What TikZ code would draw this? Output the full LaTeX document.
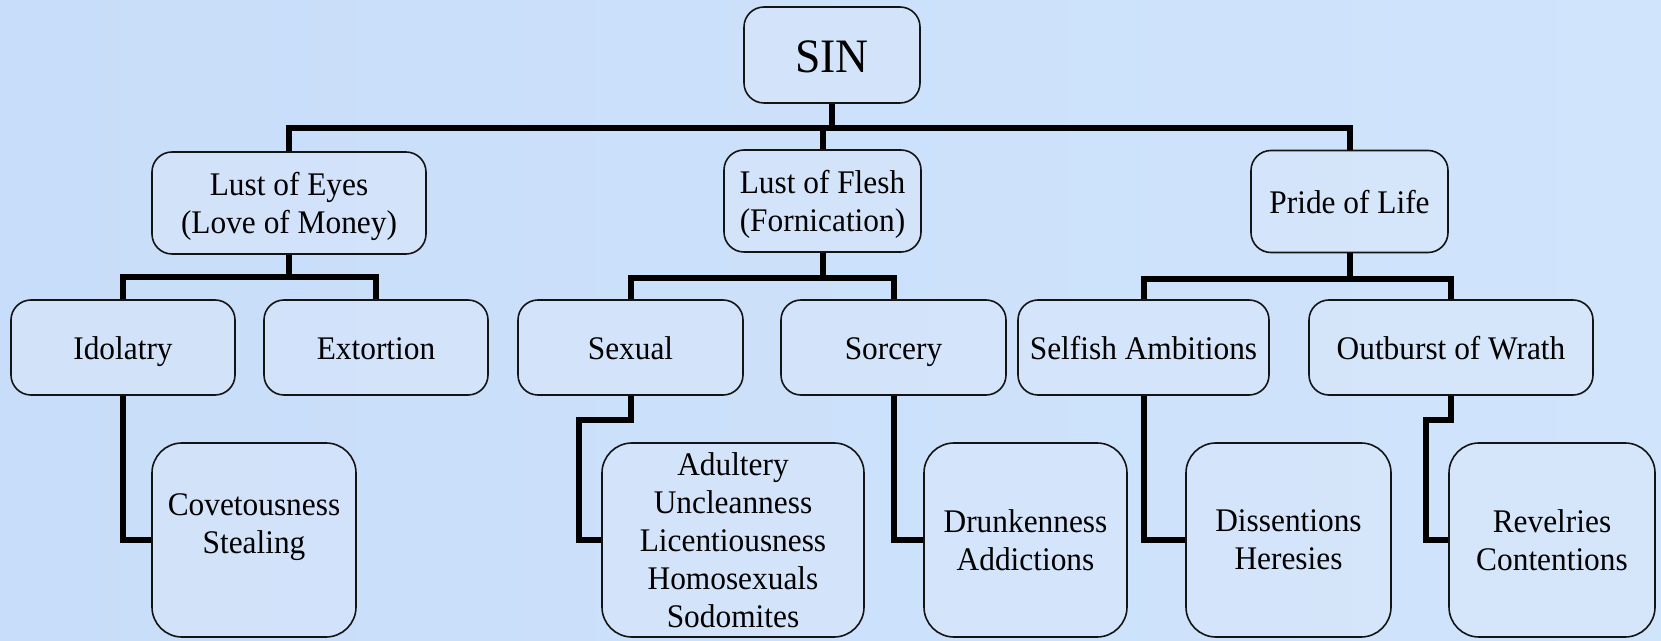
\documentclass[tikz,border=0pt]{standalone}
\usepackage{fontspec}
\setmainfont{Liberation Serif}[FakeStretch=0.95]
\usepackage{tikz}
\usepackage{xcolor}
\usetikzlibrary{positioning, calc}
\definecolor{bgleft}{RGB}{200, 221, 249}
\definecolor{bgmid}{RGB}{218, 230, 248}
\definecolor{bgright}{RGB}{208, 228, 252}
\definecolor{boxfill}{RGB}{218, 231, 250}
\definecolor{boxline}{RGB}{20, 20, 20}
\tikzset{
    sbox/.style={draw=boxline, line width=0.8pt, fill=boxfill, fill opacity=0.55, text opacity=1,
        rounded corners=10pt, align=center, inner sep=0pt, font=\fontsize{16.5}{19}\selectfont},
    oneline/.style={text height=12pt, text depth=0pt},
    sinbox/.style={sbox, minimum width=88pt, minimum height=48pt, text height=18pt, text depth=0pt,
        font=\fontsize{24}{28}\selectfont},
    lvlone/.style={sbox, minimum height=51pt, text depth=0pt},
    lvltwo/.style={sbox, oneline, minimum height=47.5pt},
    lvlthree/.style={sbox, minimum height=97pt, rounded corners=15pt},
    link/.style={draw=black, line width=3pt}
}

\begin{document}
\begin{tikzpicture}[x=0.5pt, y=-0.5pt]
                \useasboundingbox (0,0) rectangle (1661,641);
                \shade[left color=bgleft, middle color=bgmid, right color=bgright] (0,0) rectangle (1661,641);
                % top
                \node[sinbox] (sin) at (832,55) {SIN};
                % first level
                \node[lvlone, minimum width=137pt] (eyes) at (289,203) {Lust of Eyes\\(Love of Money)};
                \node[lvlone, minimum width=98.5pt] (flesh) at (822.5,201) {Lust of Flesh\\(Fornication)};
                \node[lvlone, oneline, minimum width=98.5pt] (pride) at (1349.5,201.5) {Pride of Life};
                % second level
                \node[lvltwo, minimum width=112pt] (idol) at (123,347.5) {Idolatry};
                \node[lvltwo, minimum width=112pt] (extort) at (376,347.5) {Extortion};
                \node[lvltwo, minimum width=112.5pt] (sexual) at (630.5,347.5) {Sexual};
                \node[lvltwo, minimum width=112.5pt] (sorcery) at (893.5,347.5) {Sorcery};
                \node[lvltwo, minimum width=125.5pt] (selfish) at (1143.5,347.5) {Selfish Ambitions};
                \node[lvltwo, minimum width=142pt] (wrath) at (1451,347.5) {Outburst of Wrath};
                % third level
                \node[lvlthree, minimum width=102pt] (covet) at (254,540) {Covetousness\\Stealing\\[-3pt]\mbox{}};
                \node[lvlthree, minimum width=131pt] (adultery) at (733,540) {Adultery\\Uncleanness\\Licentiousness\\Homosexuals\\Sodomites};
                \node[lvlthree, minimum width=101.5pt] (drunk) at (1025.5,540) {Drunkenness\\Addictions};
                \node[lvlthree, minimum width=102.5pt] (dissent) at (1288.5,540) {Dissentions\\Heresies};
                \node[lvlthree, minimum width=103pt] (revel) at (1552,540) {Revelries\\Contentions};

                % connectors
                \draw[link] (sin.south) -- ++(0,24) coordinate (top);
                \draw[link] (eyes.north) |- (top) -| (pride.north);
                \draw[link] (flesh.north) -- (flesh.north |- top);
                \draw[link] (eyes.south) -- ++(0,22) coordinate (eyesbar);
                \draw[link] (idol.north) |- (eyesbar) -| (extort.north);
                \draw[link] (flesh.south) -- ++(0,25) coordinate (fleshbar);
                \draw[link] (sexual.north) |- (fleshbar) -| (sorcery.north);
                \draw[link] (pride.south) -- ++(0,26) coordinate (pridebar);
                \draw[link] (selfish.north) |- (pridebar) -| (wrath.north);
                \draw[link] (idol.south) |- (covet.west);
                \draw[link] (sexual.south) -- ++(0,24) -- ++(-52,0) |- (adultery.west);
                \draw[link] (sorcery.south) |- (drunk.west);
                \draw[link] (selfish.south) |- (dissent.west);
                \draw[link] (wrath.south) -- ++(0,24) -- ++(-25,0) |- (revel.west);
            \end{tikzpicture}
\end{document}
